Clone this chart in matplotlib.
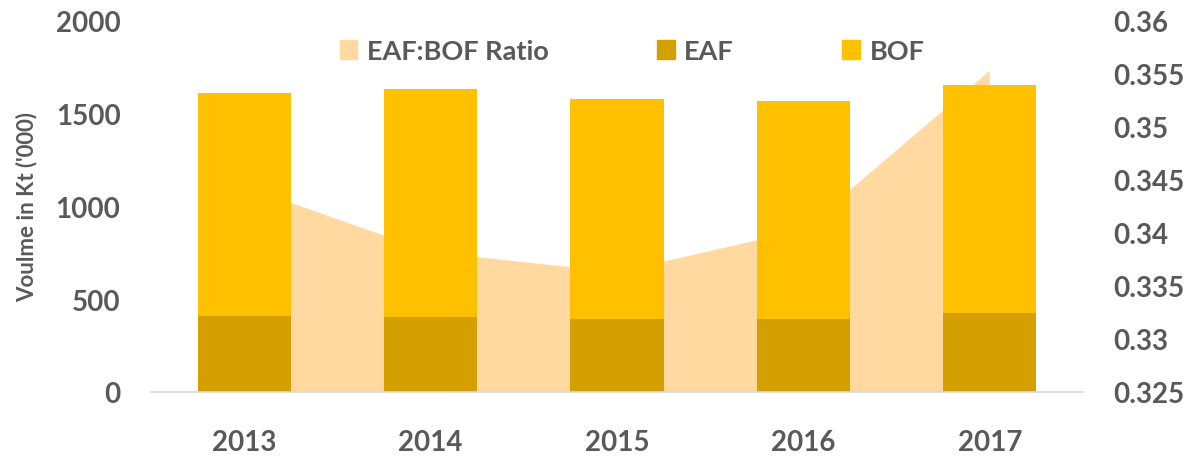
import matplotlib
matplotlib.use("Agg")
import matplotlib.pyplot as plt
from matplotlib.patches import Patch
import numpy as np

years = ["2013", "2014", "2015", "2016", "2017"]
eaf = [410, 406, 394, 394, 427]
bof = [1202, 1227, 1186, 1175, 1228]
ratio = [0.3444, 0.3382, 0.3363, 0.3403, 0.3553]

c_bof = "#FFC000"
c_eaf = "#D4A000"
c_area = "#FFD9A0"
c_text = "#595959"

plt.rcParams["font.family"] = ["Lato", "DejaVu Sans"]
plt.rcParams["font.weight"] = "bold"

fig = plt.figure(figsize=(11.93, 4.60), dpi=100)
ax = fig.add_axes([151 / 1193, 1 - 393 / 460, (1083 - 151) / 1193, (393 - 22) / 460])
ax2 = ax.twinx()

x = np.arange(len(years))
ax2.fill_between(x, 0, ratio, color=c_area, linewidth=0)
ax2.set_ylim(0.325, 0.36)
ax2.set_yticks(np.arange(0.325, 0.3601, 0.005))
ax2.set_yticklabels(["0.325", "0.33", "0.335", "0.34", "0.345", "0.35", "0.355", "0.36"])

ax.bar(x, eaf, width=0.5, color=c_eaf, linewidth=0)
ax.bar(x, bof, width=0.5, bottom=eaf, color=c_bof, linewidth=0)
ax.set_ylim(0, 2000)
ax.set_xlim(-0.5, len(years) - 0.5)
ax.set_yticks([0, 500, 1000, 1500, 2000])
ax.set_xticks(x)
ax.set_xticklabels(years)

ax.set_zorder(ax2.get_zorder() + 1)
ax.patch.set_visible(False)

for a in (ax, ax2):
    for s in a.spines.values():
        s.set_visible(False)
    a.tick_params(length=0, labelsize=20, labelcolor=c_text)
ax.spines["bottom"].set_visible(True)
ax.spines["bottom"].set_color("#D9D9D9")
ax.spines["bottom"].set_linewidth(1.2)
ax.tick_params(axis="y", pad=22)
ax.tick_params(axis="x", pad=27)
ax2.tick_params(axis="y", pad=22)

ax.set_ylabel("Voulme in Kt ('000)", fontsize=16, color=c_text, fontweight="bold", labelpad=13)

handles = [Patch(color=c_area), Patch(color=c_eaf), Patch(color=c_bof)]
labels = ["EAF:BOF Ratio", "EAF", "BOF"]
fig.legend(handles, labels, loc="center", bbox_to_anchor=(632 / 1193, 1 - 52 / 460), ncol=3,
           frameon=False, fontsize=19.5, labelcolor=c_text, handlelength=0.65, handleheight=0.65,
           handletextpad=0.36, columnspacing=4.0)

fig.savefig("out.png", dpi=100)
